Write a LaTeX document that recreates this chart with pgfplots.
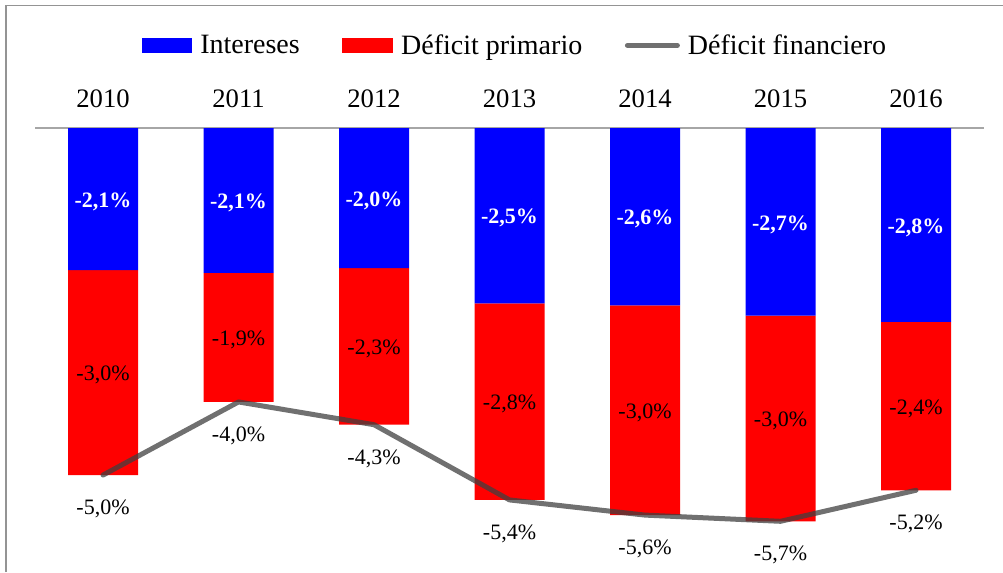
\documentclass[border=0pt]{standalone}
\usepackage{pgfplots}
\usepackage{pgfplotstable}
\pgfplotsset{compat=1.18}
\usepackage{fontspec}
\setmainfont{Liberation Serif}

% year index, Intereses, Deficit primario (both negative, % of GDP)
\pgfplotstableread{
x blue red
0 -2.06 -2.97
1 -2.10 -1.87
2 -2.03 -2.27
3 -2.54 -2.85
4 -2.57 -3.04
5 -2.72 -2.98
6 -2.81 -2.44
}\bars

% Deficit financiero
\pgfplotstableread{
x y lbl
0 -5.03 -5,0
1 -3.97 -4,0
2 -4.30 -4,3
3 -5.39 -5,4
4 -5.61 -5,6
5 -5.70 -5,7
6 -5.25 -5,2
}\fin

% label positions (segment midpoints)
\pgfplotstableread{
x y lbl
0 -1.030 -2,1
1 -1.050 -2,1
2 -1.015 -2,0
3 -1.270 -2,5
4 -1.285 -2,6
5 -1.360 -2,7
6 -1.405 -2,8
}\bluelbl
\pgfplotstableread{
x y lbl
0 -3.545 -3,0
1 -3.035 -1,9
2 -3.165 -2,3
3 -3.965 -2,8
4 -4.090 -3,0
5 -4.210 -3,0
6 -4.030 -2,4
}\redlbl

\definecolor{fincol}{RGB}{64,64,64}

\begin{document}
\begin{tikzpicture}
\path[use as bounding box] (0,0) rectangle (752.25pt,-429pt);
\draw[color=black!42, line width=1.1pt] (4.6pt,-429pt) -- (4.6pt,-4pt) -- (752.25pt,-4pt);
\begin{axis}[
  at={(26.44pt,-96pt)}, anchor=north west,
  scale only axis, width=711.4pt, height=333pt,
  xmin=-0.5, xmax=6.5, ymin=-6.435, ymax=0,
  ybar stacked, bar width=52.5pt,
  hide y axis,
  axis x line*=top,
  x axis line style={color=black!35, line width=1.5pt, -},
  xtick={0,...,6},
  xticklabels={2010,2011,2012,2013,2014,2015,2016},
  major tick length=0pt,
  xticklabel style={font=\fontsize{20}{24}\selectfont, anchor=base, yshift=15.75pt},
  clip=false,
  legend columns=3,
  legend style={at={(0.506,1)}, anchor=center, yshift=62pt, draw=none, fill=none,
    font=\fontsize{21}{25}\selectfont,
    /tikz/every odd column/.append style={column sep=4pt},
    /tikz/every even column/.append style={column sep=30pt}},
  legend cell align=left,
]
\addplot[fill=blue, draw=none,
  legend image code/.code={\fill[blue] (0pt,-5.6pt) rectangle (38pt,5.6pt);}]
  table[x=x, y=blue]{\bars};
\addlegendentry{Intereses}
\addplot[fill=red, draw=none,
  legend image code/.code={\fill[red] (0pt,-5.6pt) rectangle (38pt,5.6pt);}]
  table[x=x, y=red]{\bars};
\addlegendentry{Déficit primario}
\addlegendimage{legend image code/.code={\draw[fincol, draw opacity=0.75, line width=3.75pt, line cap=round] (1.5pt,0pt) -- (39pt,0pt);}}
\addlegendentry{Déficit financiero}
\end{axis}

\begin{axis}[
  at={(26.44pt,-96pt)}, anchor=north west,
  scale only axis, width=711.4pt, height=333pt,
  xmin=-0.5, xmax=6.5, ymin=-6.435, ymax=0,
  axis lines=none, clip=false,
]
\addplot[fincol, draw opacity=0.75, line width=3.75pt, line cap=round, line join=round, mark=none,
  nodes near coords={\pgfplotspointmeta\%},
  point meta=explicit symbolic,
  every node near coord/.style={anchor=center, yshift=-25.5pt, text=black,
    font=\fontsize{16.5}{19}\selectfont}]
  table[x=x, y=y, meta=lbl]{\fin};
\addplot[draw=none, mark=none,
  nodes near coords={\pgfplotspointmeta\%},
  point meta=explicit symbolic,
  every node near coord/.style={anchor=center, yshift=-2pt, text=white,
    font=\fontsize{16.5}{19}\selectfont\bfseries}]
  table[x=x, y=y, meta=lbl]{\bluelbl};
\addplot[draw=none, mark=none,
  nodes near coords={\pgfplotspointmeta\%},
  point meta=explicit symbolic,
  every node near coord/.style={anchor=center, yshift=-2pt, text=black,
    font=\fontsize{16.5}{19}\selectfont}]
  table[x=x, y=y, meta=lbl]{\redlbl};
\end{axis}
\end{tikzpicture}
\end{document}
